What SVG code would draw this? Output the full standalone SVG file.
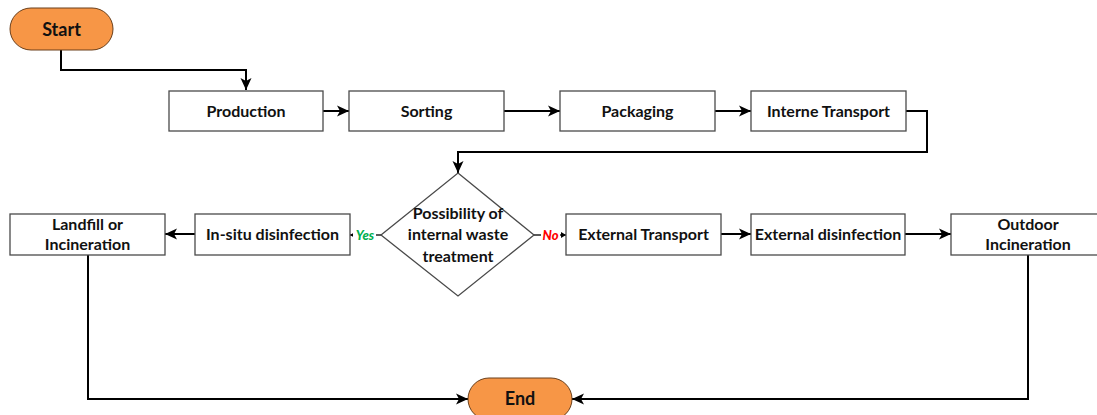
<svg xmlns="http://www.w3.org/2000/svg" width="1097" height="415" viewBox="0 0 1097 415">
  <style>
    .box { fill: #ffffff; stroke: #4a4a4a; stroke-width: 1.3; }
    .term { fill: #F79646; stroke: #6b3f1a; stroke-width: 1; }
    .lbl { font-family: Lato, "Open Sans", "Liberation Sans", sans-serif; font-weight: bold; font-size: 16px; fill: #111111; text-anchor: middle; }
    .big { font-size: 18px; }
    .edge { fill: none; stroke: #000000; stroke-width: 2; }
    .thin { fill: none; stroke: #000000; stroke-width: 1.3; }
    .yes { font-family: Lato, "Liberation Sans", sans-serif; font-weight: 900; font-style: italic; font-size: 13px; fill: #00B050; text-anchor: middle; }
    .no { font-family: Lato, "Liberation Sans", sans-serif; font-weight: 900; font-style: italic; font-size: 13px; fill: #FF0000; text-anchor: middle; }
  </style>
  <defs>
    <marker id="arrow" markerUnits="userSpaceOnUse" markerWidth="13" markerHeight="13" refX="12" refY="6.5" orient="auto">
      <path d="M0,1 L12,6.5 L0,12 L3,6.5 z" fill="#000000"/>
    </marker>
    <marker id="arrowSmall" markerUnits="userSpaceOnUse" markerWidth="6" markerHeight="6" refX="5" refY="3" orient="auto">
      <path d="M0,0 L5,3 L0,6 z" fill="#000000"/>
    </marker>
  </defs>

  <rect width="1097" height="415" fill="#ffffff"/>

  <!-- connectors -->
  <g id="connectors">
    <path class="edge" d="M61,50 V70 H246 V90" marker-end="url(#arrow)"/>
    <path class="edge" d="M323,111 H349" marker-end="url(#arrow)"/>
    <path class="edge" d="M504,111 H560" marker-end="url(#arrow)"/>
    <path class="edge" d="M715,111 H751" marker-end="url(#arrow)"/>
    <path class="edge" d="M906,111 H927 V152 H458 V173" marker-end="url(#arrow)"/>
    <path class="thin" d="M381,235 H350" marker-end="url(#arrowSmall)"/>
    <path class="edge" d="M195,234 H165" marker-end="url(#arrow)"/>
    <path class="thin" d="M534,235 H566" marker-end="url(#arrowSmall)"/>
    <path class="edge" d="M721,234 H751" marker-end="url(#arrow)"/>
    <path class="edge" d="M905,234 H951" marker-end="url(#arrow)"/>
    <path class="edge" d="M88,255 V399 H468" marker-end="url(#arrow)"/>
    <path class="edge" d="M1028,255 V399 H572" marker-end="url(#arrow)"/>
    <!-- branch labels -->
    <rect x="353" y="228" width="23" height="14" fill="#ffffff"/>
    <text class="yes" x="365" y="240">Yes</text>
    <rect x="541" y="228" width="19" height="14" fill="#ffffff"/>
    <text class="no" x="550.5" y="240">No</text>
  </g>

  <!-- nodes -->
  <g id="start">
    <rect class="term" x="10" y="8" width="103" height="42" rx="21" ry="21"/>
    <text class="lbl big" x="61.5" y="35.5">Start</text>
  </g>
  <g id="production">
    <rect class="box" x="169" y="91" width="154" height="40"/>
    <text class="lbl" x="246" y="116.5">Production</text>
  </g>
  <g id="sorting">
    <rect class="box" x="349" y="91" width="155" height="40"/>
    <text class="lbl" x="426.5" y="116.5">Sorting</text>
  </g>
  <g id="packaging">
    <rect class="box" x="560" y="91" width="155" height="40"/>
    <text class="lbl" x="637.5" y="116.5">Packaging</text>
  </g>
  <g id="interne-transport">
    <rect class="box" x="751" y="91" width="155" height="40"/>
    <text class="lbl" x="828.5" y="116.5">Interne Transport</text>
  </g>
  <g id="decision">
    <polygon class="box" points="458,173 534,235 458,296 381,235"/>
    <text class="lbl" x="458" y="218.5">Possibility of</text>
    <text class="lbl" x="458" y="240">internal waste</text>
    <text class="lbl" x="458" y="261.5">treatment</text>
  </g>
  <g id="in-situ-disinfection">
    <rect class="box" x="195" y="214" width="155" height="41"/>
    <text class="lbl" x="272.5" y="240">In-situ disinfection</text>
  </g>
  <g id="landfill-or-incineration">
    <rect class="box" x="10" y="214" width="155" height="41"/>
    <text class="lbl" x="87.5" y="229.5">Landfill or</text>
    <text class="lbl" x="87.5" y="249.5">Incineration</text>
  </g>
  <g id="external-transport">
    <rect class="box" x="566" y="214" width="155" height="41"/>
    <text class="lbl" x="643.5" y="240">External Transport</text>
  </g>
  <g id="external-disinfection">
    <rect class="box" x="751" y="214" width="154" height="41"/>
    <text class="lbl" x="828" y="240">External disinfection</text>
  </g>
  <g id="outdoor-incineration">
    <rect class="box" x="951" y="214" width="155" height="41"/>
    <text class="lbl" x="1028" y="230">Outdoor</text>
    <text class="lbl" x="1028" y="250">Incineration</text>
  </g>
  <g id="end">
    <rect class="term" x="468" y="378" width="104" height="42" rx="21" ry="21"/>
    <text class="lbl big" x="520" y="405">End</text>
  </g>
</svg>
